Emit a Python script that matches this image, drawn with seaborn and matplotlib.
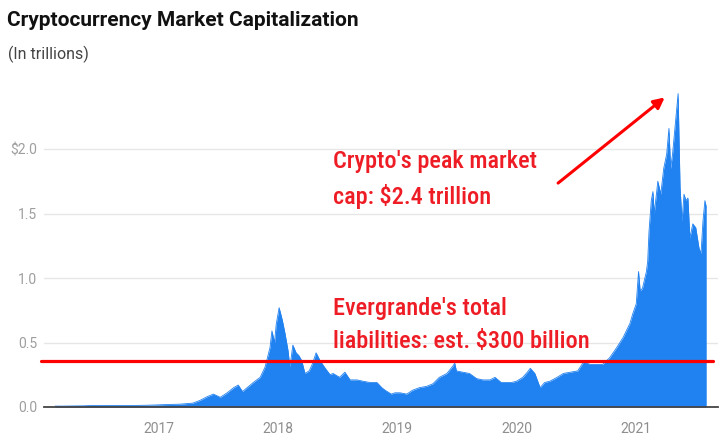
import os
import numpy as np
import pandas as pd
import matplotlib
matplotlib.use("Agg")
import matplotlib.pyplot as plt
import seaborn as sns
from matplotlib import font_manager as fm
from matplotlib.font_manager import FontProperties

# ---------------- data ----------------
dates = [
    "2016-02-20", "2016-03-15", "2016-04-15", "2016-05-15", "2016-06-15", "2016-07-15",
    "2016-08-15", "2016-09-15", "2016-10-15", "2016-11-15", "2016-12-15", "2017-01-15",
    "2017-02-15", "2017-03-08", "2017-04-16", "2017-05-07", "2017-05-30", "2017-06-18",
    "2017-07-09", "2017-07-30", "2017-08-19", "2017-09-02", "2017-09-15", "2017-09-29",
    "2017-10-18", "2017-11-08", "2017-11-23", "2017-12-08", "2017-12-14", "2017-12-22",
    "2017-12-27", "2018-01-05", "2018-01-15", "2018-01-23", "2018-02-01", "2018-02-07",
    "2018-02-16", "2018-02-26", "2018-03-06", "2018-03-15", "2018-03-25", "2018-04-07",
    "2018-04-16", "2018-04-28", "2018-05-10", "2018-05-26", "2018-06-10", "2018-06-19",
    "2018-07-09", "2018-07-25", "2018-08-10", "2018-08-31", "2018-09-18", "2018-10-10",
    "2018-10-31", "2018-11-15", "2018-11-25", "2018-12-14", "2018-12-25", "2019-01-10",
    "2019-01-30", "2019-02-17", "2019-03-10", "2019-04-01", "2019-04-20", "2019-05-10",
    "2019-06-02", "2019-06-21", "2019-06-26", "2019-07-01", "2019-07-20", "2019-08-10",
    "2019-09-01", "2019-09-20", "2019-10-12", "2019-10-27", "2019-11-15", "2019-12-17",
    "2020-01-01", "2020-01-20", "2020-02-03", "2020-02-12", "2020-02-26", "2020-03-13",
    "2020-03-27", "2020-04-12", "2020-05-04", "2020-05-23", "2020-06-14", "2020-07-06",
    "2020-07-24", "2020-08-13", "2020-09-02", "2020-09-20", "2020-10-11", "2020-11-02",
    "2020-11-22", "2020-12-13", "2020-12-21", "2021-01-01", "2021-01-08", "2021-01-13",
    "2021-01-20", "2021-02-01", "2021-02-05", "2021-02-09", "2021-02-16", "2021-02-21",
    "2021-02-25", "2021-03-08", "2021-03-17", "2021-03-26", "2021-04-04", "2021-04-11",
    "2021-04-16", "2021-04-22", "2021-05-03", "2021-05-09", "2021-05-15", "2021-05-21",
    "2021-05-27", "2021-06-02", "2021-06-08", "2021-06-14", "2021-06-23", "2021-07-02",
    "2021-07-12", "2021-07-18", "2021-07-24", "2021-07-30", "2021-08-03",
]
cap_trillions = [
    0.007, 0.007, 0.008, 0.009, 0.012, 0.011,
    0.011, 0.011, 0.012, 0.013, 0.015, 0.018,
    0.020, 0.022, 0.030, 0.050, 0.080, 0.100,
    0.075, 0.110, 0.150, 0.170, 0.120, 0.150,
    0.190, 0.230, 0.310, 0.460, 0.590, 0.500,
    0.640, 0.770, 0.670, 0.570, 0.440, 0.310,
    0.480, 0.420, 0.400, 0.360, 0.260, 0.280,
    0.330, 0.420, 0.360, 0.300, 0.250, 0.260,
    0.230, 0.270, 0.210, 0.210, 0.200, 0.190,
    0.190, 0.150, 0.130, 0.100, 0.110, 0.110,
    0.100, 0.130, 0.150, 0.160, 0.180, 0.230,
    0.260, 0.320, 0.340, 0.280, 0.270, 0.260,
    0.220, 0.210, 0.210, 0.230, 0.190, 0.190,
    0.200, 0.230, 0.270, 0.300, 0.260, 0.150,
    0.190, 0.200, 0.230, 0.260, 0.270, 0.280,
    0.350, 0.330, 0.330, 0.330, 0.380, 0.460,
    0.540, 0.650, 0.720, 0.800, 1.050, 0.900,
    0.920, 1.050, 1.130, 1.360, 1.600, 1.670,
    1.500, 1.750, 1.650, 1.850, 1.960, 2.160,
    1.850, 1.960, 2.270, 2.430, 1.700, 1.440,
    1.650, 1.600, 1.620, 1.310, 1.420, 1.390,
    1.230, 1.190, 1.440, 1.600, 1.550,
]
y_ticks = [0.0, 0.5, 1.0, 1.5, 2.0]
y_tick_labels = ["0.0", "0.5", "1.0", "1.5", "$2.0"]
year_ticks = ["2017-01-01", "2018-01-01", "2019-01-01", "2020-01-01", "2021-01-01"]
year_labels = ["2017", "2018", "2019", "2020", "2021"]
evergrande_level = 0.36
peak_level = 2.40
title_text = "Cryptocurrency Market Capitalization"
subtitle_text = "(In trillions)"
peak_note = "Crypto's peak market\ncap: $2.4 trillion"
evergrande_note = "Evergrande's total\nliabilities: est. $300 billion"

# ---------------- style ----------------
sns.set_theme(style="white")
plt.rcParams["font.family"] = ["Roboto", "DejaVu Sans"]

def find_font(patterns):
    files = [f.fname for f in fm.fontManager.ttflist]
    for p in patterns:
        for fn in files:
            if p.lower() in os.path.basename(fn).lower():
                return fn
    return None

cond_file = find_font([
    "RobotoCondensed-Medium", "RobotoCondensed-Regular", "RobotoCondensed[",
    "NotoSans-CondensedMedium", "NotoSans-Condensed.", "LiberationSansNarrow-Regular",
    "DejaVuSansCondensed.ttf", "Condensed", "Narrow",
])
note_size = 17.5
if cond_file:
    note_font = FontProperties(fname=cond_file, size=note_size)
else:
    note_font = FontProperties(family="DejaVu Sans", size=note_size - 3)

blue = "#2081F0"
red_line = "#FF0000"
red_text = "#EE1D25"

df = pd.DataFrame({"date": pd.to_datetime(dates), "cap": cap_trillions})

fig = plt.figure(figsize=(7.26, 4.43), dpi=100)
ax = fig.add_axes([44 / 726, 1 - 407 / 443, (718 - 44) / 726, (407 - 91) / 443])

ax.fill_between(df["date"], 0, df["cap"], color=blue, linewidth=0, zorder=2)
sns.lineplot(data=df, x="date", y="cap", ax=ax, color=blue, linewidth=0.6, zorder=2)

ax.set_xlim(pd.Timestamp("2016-01-17"), pd.Timestamp("2021-09-08"))
ax.set_ylim(0, 2.45)

ax.set_yticks(y_ticks)
ax.set_yticklabels(y_tick_labels)
ax.set_xticks(pd.to_datetime(year_ticks))
ax.set_xticklabels(year_labels)
ax.set_xlabel("")
ax.set_ylabel("")

for v in y_ticks[1:]:
    ax.axhline(v, color="#E6E6E6", linewidth=1.0, zorder=1)

for s in ["left", "right", "top"]:
    ax.spines[s].set_visible(False)
ax.spines["bottom"].set_color("#444444")
ax.spines["bottom"].set_linewidth(1.3)
ax.spines["bottom"].set_zorder(4)

ax.tick_params(axis="y", length=0, pad=5, labelsize=10, labelcolor="#9E9E9E")
ax.tick_params(axis="x", length=4, width=1, color="#444444", pad=7,
               labelsize=10, labelcolor="#8E8E8E", direction="out")

# Evergrande line
ax.axhline(evergrande_level, xmin=-0.005, xmax=0.9925, color=red_line,
           linewidth=2.3, zorder=3, clip_on=False)

# annotations
ax.text(pd.Timestamp("2018-06-19"), 1.99, peak_note, fontproperties=note_font,
        color=red_text, va="top", ha="left", linespacing=1.55, zorder=5)
ax.text(pd.Timestamp("2018-06-19"), 0.855, evergrande_note, fontproperties=note_font,
        color=red_text, va="top", ha="left", linespacing=1.55, zorder=5)
ax.annotate("", xy=(pd.Timestamp("2021-03-29"), peak_level),
            xytext=(pd.Timestamp("2020-05-07"), 1.736),
            arrowprops=dict(arrowstyle="-|>", color=red_line, lw=2.2,
                            mutation_scale=16, shrinkA=0, shrinkB=0),
            zorder=5)

fig.text(7 / 726, 1 - 26 / 443, title_text, fontsize=15, fontweight="bold",
         color="#111111", va="baseline", ha="left")
fig.text(8 / 726, 1 - 59 / 443, subtitle_text, fontsize=11.5, color="#444444",
         va="baseline", ha="left")

fig.savefig("out.png", dpi=100)
